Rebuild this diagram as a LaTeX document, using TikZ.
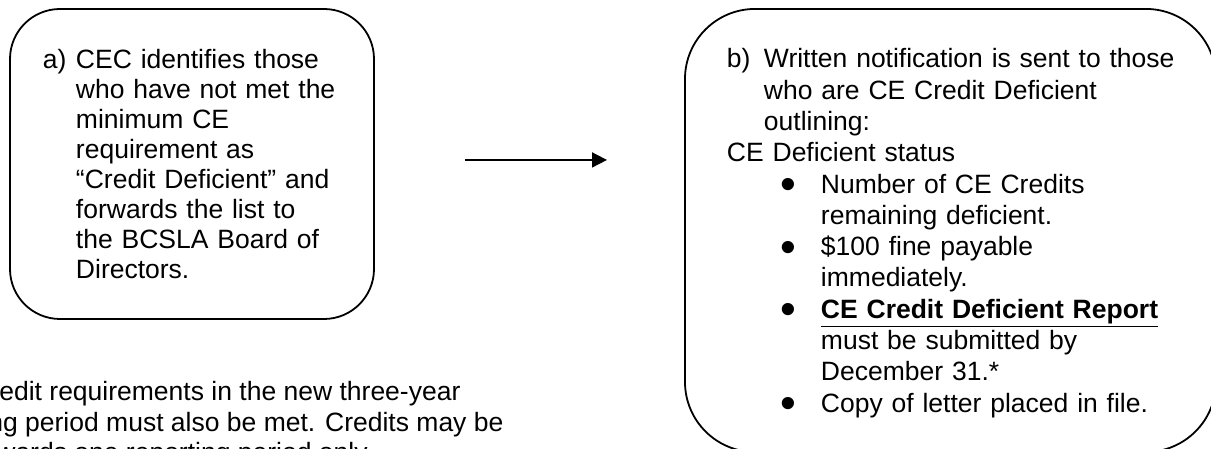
\documentclass[tikz,border=0pt]{standalone}
\usepackage{fontspec}
\setmainfont{Liberation Sans}
\usetikzlibrary{arrows.meta, positioning}

%% etiqueta de paso y vineta
\newcommand{\steplbl}[2]{\makebox[#1][l]{#2}}
\newcommand{\bulitem}{\hspace*{27pt}\makebox[20pt][l]{%
  \raisebox{-3.3pt}{\scalebox{1.7}{\textbullet}}}}

\begin{document}
\begin{tikzpicture}[
  stepbox/.style={
    rectangle, rounded corners=#1,
    draw=black, line width=0.9pt,
    align=left, inner xsep=0pt, inner ysep=0pt
  },
  sendarrow/.style={
    -{Triangle[length=7.5pt, width=7.5pt]}, line width=0.85pt
  }
]

\useasboundingbox (0, 0) rectangle (21.281, 7.890);
\clip (0, 0) rectangle (21.281, 7.890);

%% ── a) Identificacion ──────────────────────────────────────────────────
\node[stepbox=25pt, minimum width=182pt, minimum height=155pt,
      text width=149pt,
      font=\fontsize{13.25pt}{15pt}\selectfont] (boxa) at (3.374, 5.008)
  {\mbox{\steplbl{16.5pt}{a)}CEC identifies those}\\
   \hspace*{16.5pt}who have not met the\\
   \hspace*{16.5pt}minimum CE\\
   \hspace*{16.5pt}requirement as\\
   \hspace*{16.5pt}\mbox{``Credit Deficient'' and}\\
   \hspace*{16.5pt}forwards the list to\\
   \hspace*{16.5pt}the BCSLA Board of\\
   \hspace*{16.5pt}Directors.};

%% ── b) Notificacion ────────────────────────────────────────────────────
\node[stepbox=35pt, minimum width=265.5pt, minimum height=221.5pt,
      text width=223.5pt,
      font=\fontsize{13.25pt}{15.65pt}\selectfont] (boxb) at (16.703, 3.840)
  {\rule{0pt}{12.8pt}%
   \mbox{\steplbl{18.5pt}{b)}Written notification is sent to those}\\
   \hspace*{18.5pt}who are CE Credit Deficient\\
   \hspace*{18.5pt}outlining:\\
   CE Deficient status\\
   \bulitem Number of CE Credits\\
   \hspace*{47pt}remaining deficient.\\
   \bulitem \$100 fine payable\\
   \hspace*{47pt}immediately.\\
   \bulitem \mbox{\underline{\textbf{CE Credit Deficient Report}}}\\
   \hspace*{47pt}must be submitted by\\
   \hspace*{47pt}December 31.*\\
   \bulitem \mbox{Copy of letter placed in file.}};

%% ── Nota al pie (recortada) ────────────────────────────────────────────
\node[anchor=north west, align=left, inner sep=0pt,
      font=\fontsize{13.25pt}{15.25pt}\selectfont] (note) at (-0.018, 1.195)
  {edit requirements in the new three-year\\
   \hspace*{-5.5pt}ng period must also be met. Credits may be\\
   \hspace*{-1.5pt}wards one reporting period only.};

%% ── Flecha a) -> b) ────────────────────────────────────────────────────
\coordinate (sendtail) at (8.171, 5.079);
\coordinate (sendhead) at (10.667, 5.079);
\draw[sendarrow] (sendtail) -- (sendhead);

\end{tikzpicture}
\end{document}
